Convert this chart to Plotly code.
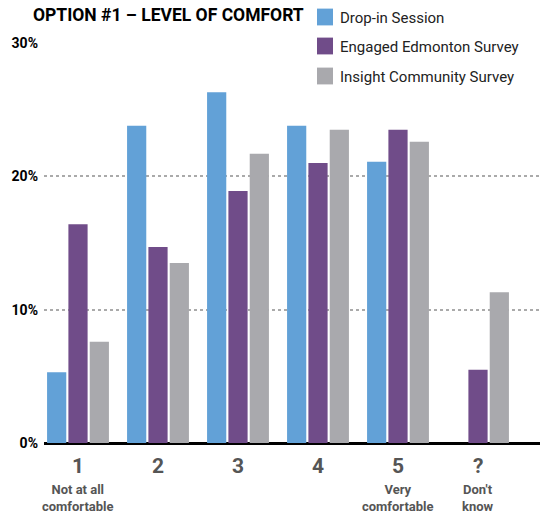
import plotly.graph_objects as go

categories = ["1", "2", "3", "4", "5", "?"]
sub_labels = ["Not at all<br>comfortable", "", "", "", "Very<br>comfortable", "Don't<br>know"]
series_names = ["Drop-in Session", "Engaged Edmonton Survey", "Insight Community Survey"]
drop_in = [5.3, 23.8, 26.3, 23.8, 21.1, None]
engaged = [16.4, 14.7, 18.9, 21.0, 23.5, 5.5]
insight = [7.6, 13.5, 21.7, 23.5, 22.6, 11.3]
colors = ["#62A1D7", "#704C89", "#A9A9AD"]
y_ticks = [0, 10, 20, 30]
y_ticktext = ["0%", "10%", "20%", "30%"]

FONT = "Roboto"

fig = go.Figure()
for i, (name, vals) in enumerate(zip(series_names, [drop_in, engaged, insight])):
    fig.add_trace(go.Bar(
        x=categories, y=vals, name=name, marker_color=colors[i],
        marker_line_width=0, showlegend=False,
    ))

annotations = [dict(
    text="<b>OPTION #1 – LEVEL OF COMFORT</b>", xref="paper", yref="paper",
    x=-0.026, y=1.07, xanchor="left", yanchor="middle", showarrow=False,
    font=dict(family=FONT, size=17.5, color="#000000", weight=900),
)]
# x category labels
for i, (c, s) in enumerate(zip(categories, sub_labels)):
    annotations.append(dict(
        text=f"<b>{c}</b>", x=i, xref="x", y=-0.0575, yref="paper",
        xanchor="center", yanchor="middle", showarrow=False,
        font=dict(family=FONT, size=21, color="#555555"),
    ))
    if s:
        annotations.append(dict(
            text=f"<b>{s}</b>", x=i, xref="x", y=-0.092, yref="paper",
            xanchor="center", yanchor="top", showarrow=False,
            font=dict(family=FONT, size=13, color="#555555"),
        ))

# manual legend
shapes = [dict(
    type="rect", xref="paper", yref="paper", x0=(308 - 44) / 496, x1=1.0,
    y0=0.985, y1=1.12, fillcolor="white", line_width=0, layer="above",
)]
leg_y = [1.065, 0.9925, 0.9175]
for name, col, yc in zip(series_names, colors, leg_y):
    shapes.append(dict(
        type="rect", xref="paper", yref="paper",
        x0=(317 - 44) / 496, x1=(333 - 44) / 496, y0=yc - 0.021, y1=yc + 0.021,
        fillcolor=col, line_width=0, layer="above",
    ))
    annotations.append(dict(
        text=name, xref="paper", yref="paper", x=(338 - 44) / 496, y=yc - 0.003,
        xanchor="left", yanchor="middle", showarrow=False,
        font=dict(family=FONT, size=15, color="#222222"),
    ))

fig.update_layout(
    width=540, height=514,
    margin=dict(l=44, r=0, t=43, b=71),
    plot_bgcolor="white", paper_bgcolor="white",
    font=dict(family=FONT, color="#555555"),
    barmode="group", bargap=0.2, bargroupgap=0.1,
    showlegend=False,
    xaxis=dict(
        range=[-0.425, 5.775], showticklabels=False, showgrid=False,
        showline=False, zeroline=False, ticks="",
    ),
    yaxis=dict(
        range=[0, 30.0], tickmode="array", tickvals=y_ticks, ticktext=y_ticktext,
        showgrid=True, gridcolor="#AAAAAA", griddash="dot", gridwidth=1.5,
        zeroline=True, zerolinecolor="#000000", zerolinewidth=2.5,
        showline=False, ticks="", ticklabelstandoff=5, automargin=False,
        tickfont=dict(family=FONT, size=14, color="#000000", weight="bold"),
    ),
    annotations=annotations,
    shapes=shapes,
)

# remove the page's default 8px body margin so the 540x514 figure fills the window
fig.write_html(
    "out.html",
    config={"displayModeBar": False},
    post_script="document.body.style.margin='0px';",
)
